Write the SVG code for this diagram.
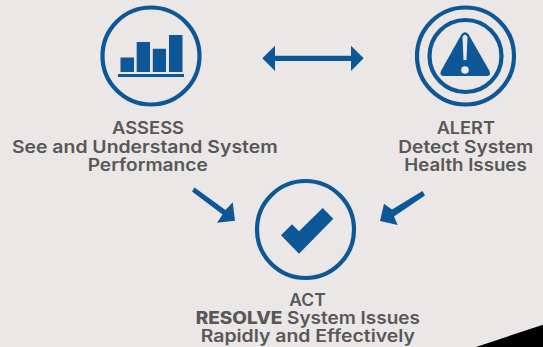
<svg xmlns="http://www.w3.org/2000/svg" width="543" height="347" viewBox="0 0 543 347">
<style>
.ring{fill:none;stroke:#0E5796;stroke-width:4.2}
.fill{fill:#0E5796}
text{font-family:"Inter","Liberation Sans",sans-serif;font-size:17px;font-weight:600;fill:#585858;text-anchor:middle}
.b{font-weight:800}
</style>
<rect width="543" height="347" fill="#EAE7E6"/>
<polygon points="476,347 543,324.7 543,347" fill="#000"/>
<g id="assess">
<circle class="ring" cx="151" cy="56" r="48.5"/>
<path class="fill" d="M120.5 57.500H134V72H120.500ZM136.700 42H150V72H136.700ZM152.800 48.700H166V72H152.800ZM169 35H182.500V72H169ZM118 74H184V77H118Z"/>
<text x="148" y="134" textLength="72" lengthAdjust="spacingAndGlyphs">ASSESS</text>
<text x="144.800" y="153" textLength="265.700" lengthAdjust="spacingAndGlyphs">See and Understand System</text>
<text x="147.700" y="171" textLength="120" lengthAdjust="spacingAndGlyphs">Performance</text>
</g>
<g id="alert">
<circle class="ring" cx="465.500" cy="56" r="48.500"/>
<circle class="ring" cx="465.500" cy="56" r="36"/>
<path class="fill" d="M460.500 36Q465 28.500 469.500 36L489.500 71Q491.500 76 486.500 76H444Q439 76 441 71Z"/>
<path d="M462.500 37Q465 32 467.500 37L466.500 60H463.500Z" fill="#EAE7E6"/>
<circle cx="465" cy="70" r="3.800" fill="#EAE7E6"/>
<text x="465.800" y="134" textLength="58.300" lengthAdjust="spacingAndGlyphs">ALERT</text>
<text x="465.800" y="153" textLength="135" lengthAdjust="spacingAndGlyphs">Detect System</text>
<text x="465.500" y="171" textLength="122.400" lengthAdjust="spacingAndGlyphs">Health Issues</text>
</g>
<g id="act">
<circle class="ring" cx="305.500" cy="229.500" r="48.500"/>
<polygon class="fill" points="281,235.300 292,224.300 299,231.300 322.700,208 333.300,218.700 299,253.700"/>
<text x="307.500" y="305.500" textLength="36.400" lengthAdjust="spacingAndGlyphs">ACT</text>
<text x="307.800" y="324" textLength="224.300" lengthAdjust="spacingAndGlyphs"><tspan class="b">RESOLVE</tspan> System Issues</text>
<text x="307.800" y="342" textLength="214.300" lengthAdjust="spacingAndGlyphs">Rapidly and Effectively</text>
</g>
<g id="connectors">
<path class="fill" d="M262.300 58.300L275 45.700V55.700H351V45.700L363.700 58.300L351 71V61H275V71Z"/>
<path class="fill" d="M192 191.500L194.500 187.500L225.500 210L232.700 202.300L235 220.700L217 222.700L222.500 214.500Z"/>
<path class="fill" d="M425 195.500L422.500 191L392 209.500L384 203.700L380 221L397.700 225L394 216.500Z"/>
</g>
</svg>
